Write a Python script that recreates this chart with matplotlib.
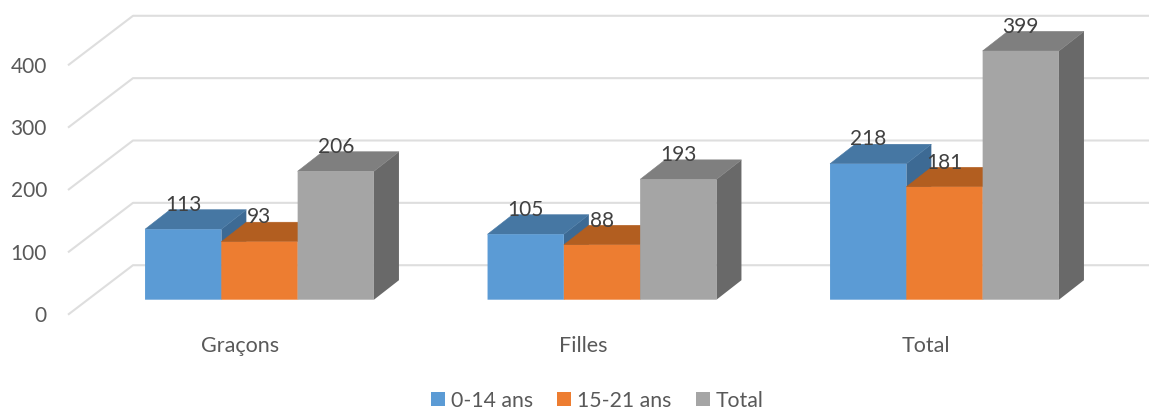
import matplotlib
matplotlib.use('Agg')
import matplotlib.pyplot as plt
from matplotlib.patches import Polygon, Patch

categories = ['Graçons', 'Filles', 'Total']
series_names = ['0-14 ans', '15-21 ans', 'Total']
values_0_14 = [113, 105, 218]
values_15_21 = [93, 88, 181]
values_total = [206, 193, 399]
y_ticks = [0, 100, 200, 300, 400]

front_colors = ['#5b9bd5', '#ed7d31', '#a5a5a5']
top_colors = ['#4677a3', '#b25e20', '#7f7f7f']
side_colors = ['#3d6a94', '#9c5018', '#696969']

W, H = 1149, 410
# pixel scales of the front plane of the bars
PX_PER_CAT = 342.5
PX_PER_UNIT = 0.6235
X0_PX = 259.5
Y0_PX = 300.7

def dx(px):
    return px / PX_PER_CAT

def dy(px):
    return px / PX_PER_UNIT

plt.rcParams['font.family'] = ['Lato', 'DejaVu Sans']

fig = plt.figure(figsize=(W / 100, H / 100), dpi=100)
ax = fig.add_axes([0, 0, 1, 1])
ax.set_xlim(-dx(X0_PX), dx(W - X0_PX))
ax.set_ylim(-dy(H - Y0_PX), dy(Y0_PX))
ax.axis('off')

# walls: side wall diagonal and back wall line for each tick
grid_color = '#dedede'
for v in y_ticks:
    xs = [dx(68 - X0_PX), dx(133 - X0_PX), dx(W - X0_PX)]
    ys = [v - dy(15), v + dy(34.5), v + dy(34.5)]
    ax.plot(xs, ys, color=grid_color, lw=1.5, zorder=1, solid_capstyle='butt')
    ax.text(dx(47 - X0_PX), v - dy(15.5), str(v), ha='right', va='center',
            fontsize=15, color='#595959')

# bars
bar_w = dx(76.3)
depth_x = dx(25)
depth_y = dy(19.5)
all_values = [values_0_14, values_15_21, values_total]
for s, vals in enumerate(all_values):
    z = 2 + s
    for c, v in enumerate(vals):
        left = c + (s - 1.5) * bar_w
        right = left + bar_w
        ax.bar(left, v, width=bar_w, align='edge', color=front_colors[s], zorder=z + 0.2, snap=False)
        # thin edge on the top face closes the seam with the front face
        ax.add_patch(Polygon([(left, v), (right, v), (right + depth_x, v + depth_y), (left + depth_x, v + depth_y)],
                             closed=True, facecolor=top_colors[s], edgecolor=top_colors[s], lw=0.4, zorder=z))
        ax.add_patch(Polygon([(right, 0), (right, v), (right + depth_x, v + depth_y), (right + depth_x, depth_y)],
                             closed=True, facecolor=side_colors[s], edgecolor='none', zorder=z - 0.1))

# value labels go on top of everything
for s, vals in enumerate(all_values):
    for c, v in enumerate(vals):
        x = c + (s - 1) * bar_w
        ax.text(x, v + dy(25.3), str(v), ha='center', va='center',
                fontsize=15, color='#404040', zorder=10)

# category labels
for c, name in enumerate(categories):
    ax.text(c - dx(19), -dy(45), name, ha='center', va='center',
            fontsize=15.5, color='#595959')

handles = [Patch(facecolor=col, edgecolor='none', label=n) for col, n in zip(front_colors, series_names)]
leg = ax.legend(handles=handles, ncol=3, frameon=False, loc='center',
                bbox_to_anchor=(597.5 / W, 1 - 401.5 / H), fontsize=15.3,
                handlelength=0.66, handleheight=0.66, handletextpad=0.28, columnspacing=1.13,
                labelcolor='#595959', borderpad=0)

fig.savefig('out.png', dpi=100)
